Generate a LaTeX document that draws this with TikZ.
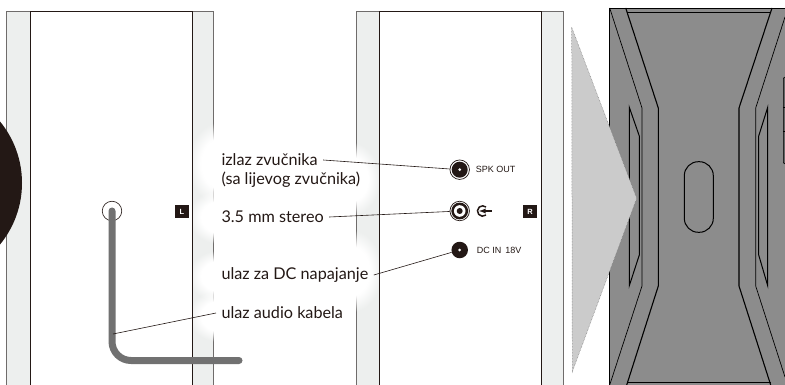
\documentclass[tikz,border=0pt]{standalone}
\usepackage{fontspec}
\setmainfont{Lato}
\newfontfamily\labelfont{Liberation Sans}
\usetikzlibrary{fadings}
\definecolor{inkblack}{HTML}{231815}
\definecolor{stripgray}{HTML}{EDEFEE}
\definecolor{edgegray}{HTML}{6F6C6B}
\definecolor{cablegray}{HTML}{717171}
\definecolor{rearbody}{HTML}{8C8C8C}
\definecolor{rearbeam}{HTML}{CBCBCB}
\pgfdeclareradialshading{softshade}{\pgfpoint{0bp}{0bp}}{color(0bp)=(white); color(15bp)=(white); color(25bp)=(black); color(50bp)=(black)}
\pgfdeclarefading{softpatch}{\pgfuseshading{softshade}}
\tikzset{
  caption/.style={anchor=west, inner sep=0pt, outer sep=5.5pt, font=\fontsize{16.2}{18}\selectfont, text=inkblack},
  leader/.style={draw=inkblack, line width=0.6pt},
  badge/.style={fill=inkblack, text=white, inner sep=0pt, minimum width=14pt, minimum height=13pt, font=\labelfont\bfseries\fontsize{7.5}{8}\selectfont},
  tag/.style={anchor=west, inner sep=0pt, text=inkblack, font=\labelfont\fontsize{9}{10}\selectfont},
  glow/.style={fill=white, path fading=softpatch}
}
\begin{document}
\begin{tikzpicture}[x=1pt,y=-1pt]
        \clip (0,0) rectangle (785,385);
        \fill[white] (0,0) rectangle (785,385);
        % side strips of the two cabinets
        \filldraw[draw=edgegray, fill=stripgray, line width=0.8pt] (6,400) -- (6,11) -- (213,11) -- (213,400);
        \filldraw[draw=edgegray, fill=stripgray, line width=0.8pt] (356,400) -- (356,11) -- (563,11) -- (563,400);
        \fill[white] (30.5,11.3) rectangle (192.5,400);
        \fill[white] (379,11.3) rectangle (541,400);
        % soft white patches behind the captions
        \fill[glow] (188,122) rectangle (252,205);
        \fill[glow] (188,190) rectangle (252,244);
        \fill[glow] (188,250) rectangle (252,302);
        \fill[glow] (188,290) rectangle (252,342);
        \fill[glow] (322,142) rectangle (380,216);
        \fill[glow] (322,230) rectangle (382,312);
        \draw[inkblack, line width=0.9pt] (30.5,400) -- (30.5,11) -- (192.5,11) -- (192.5,400);
        \draw[inkblack, line width=0.9pt] (379,400) -- (379,11) -- (541,11) -- (541,400);
        % woofer seen from the side
        \fill[inkblack] (-75,183) circle [radius=97];
        % left cabinet
        \node[draw=inkblack, circle, line width=0.6pt, minimum size=19.5pt, inner sep=0pt] (audiojack) at (112,211) {};
        \draw[cablegray, line width=7pt, line cap=round, rounded corners=19pt] (audiojack.center) -- (112,360.5) -- (239,360.5);
        \coordinate (cablepoint) at (113,334);
        \node[badge] (lbadge) at (182,211.5) {L};
        % right cabinet
        \node[circle, draw=inkblack, line width=0.7pt, minimum size=19.5pt, inner sep=0pt] (spkjack) at (459.7,169.7) {};
        \fill[inkblack] (spkjack.center) circle [radius=8];
        \fill[white] (spkjack.center) circle [radius=1.5];
        \node[circle, draw=inkblack, line width=0.7pt, minimum size=19.5pt, inner sep=0pt] (stereojack) at (459.7,211) {};
        \fill[inkblack] (stereojack.center) circle [radius=8.4];
        \fill[white] (stereojack.center) circle [radius=5.8];
        \fill[inkblack] (stereojack.center) circle [radius=3];
        \node[circle, fill=inkblack, minimum size=16.5pt, inner sep=0pt] (dcjack) at (459.7,250) {};
        \fill[white] (dcjack.center) circle [radius=1.5];
        \node[tag] (spktag) at (475.7,169.7) {SPK OUT};
        \node[tag] (dctag) at (476.7,250) {DC IN\, 18V};
        \coordinate (iconpoint) at (479,211);
        \draw[inkblack, line width=1.5pt] (486,215) arc [start angle=50, end angle=310, radius=5.2];
        \draw[inkblack, line width=1.3pt, -latex] (491.5,211) -- (iconpoint);
        \node[badge] (rbadge) at (530,211.5) {R};
        % captions and leaders
        \node[caption] (spktext) at (216,160) {izlaz zvučnika};
        \node[caption] (spknote) at (216,179.5) {(sa lijevog zvučnika)};
        \node[caption] (stereotext) at (216,217) {3.5 mm stereo};
        \node[caption] (dctext) at (216,275) {ulaz za DC napajanje};
        \node[caption] (audiotext) at (216,313) {ulaz audio kabela};
        \draw[leader] (spktext.east) -- (spkjack);
        \draw[leader] (stereotext.east) -- (stereojack);
        \draw[leader] (dctext.east) -- (dcjack);
        \draw[leader] (audiotext.west) -- (cablepoint);
        % rear view
        \fill[rearbody] (609,8) rectangle (785,385);
        \draw[black, line width=0.8pt] (609.5,400) -- (609.5,8) -- (785,8);
        \draw[black, line width=0.7pt] (609.7,8) -- (642,108) -- (642,286) -- (609.7,385);
        \draw[black, line width=1.1pt] (625.7,8) -- (658.3,108) -- (658.3,286) -- (626.7,385);
        \draw[black, line width=1.1pt] (772,8) -- (739,108) -- (739,286) -- (770.7,385);
        \draw[black, line width=0.7pt] (785,17) -- (755.7,108) -- (755.7,286) -- (785,377);
        \draw[black, line width=0.8pt] (626.5,12) -- (771,12);
        \draw[black, line width=0.8pt] (627,382.3) -- (771,382.3);
        \draw[black, line width=1pt] (629.3,107.3) -- (639.3,136) -- (639.3,255) -- (629.3,285.7) -- cycle;
        \draw[black, line width=1pt] (767.7,107.3) -- (758.7,136) -- (758.7,255) -- (767.7,285.7) -- cycle;
        \draw[black, line width=1pt, rounded corners=14pt] (684.3,161.7) rectangle (713.3,232.3);
        \filldraw[draw=black, fill=black!60, line width=0.6pt, rounded corners=2pt] (783.4,77) rectangle (790,164);
        \draw[black, line width=0.6pt] (783.4,107) -- (785,107) (783.4,131) -- (785,131);
        % beam towards the rear view
        \filldraw[draw=black!55, fill=rearbeam, line width=0.5pt, densely dotted] (571.7,27.3) -- (636.7,198.3) -- (572.3,371.7) -- cycle;
    \end{tikzpicture}
\end{document}
